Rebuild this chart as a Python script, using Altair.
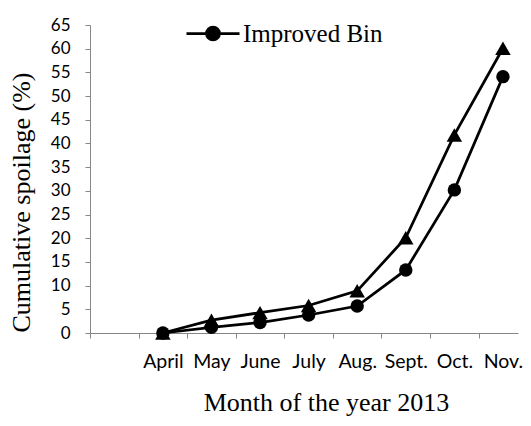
import json
import altair as alt
import pandas as pd

# ---- data ----
months = ["April", "May", "June", "July", "Aug.", "Sept.", "Oct.", "Nov."]
improved_bin = [0.0, 1.2, 2.2, 3.8, 5.7, 13.3, 30.2, 54.1]
other_bin = [0.0, 2.7, 4.3, 5.8, 8.9, 20.1, 41.8, 60.1]
y_ticks = list(range(0, 70, 5))

# category slots: slot 0 is empty, months take slots 1..8, points sit at slot centres
slot_labels = [""] + months
slot_pos = [i + 1.5 for i in range(len(months))]

df_imp = pd.DataFrame({"pos": slot_pos, "month": months, "value": improved_bin,
                       "series": "Improved Bin"})
df_oth = pd.DataFrame({"pos": slot_pos, "month": months, "value": other_bin,
                       "series": "Other Bin"})
df_all = pd.concat([df_imp, df_oth], ignore_index=True)

W, H = 428, 308
x_max = 8.81
half_slot = W / x_max / 2

serif = "Liberation Serif"
sans = "Lato"
axis_grey = "#868686"

x_enc = alt.X(
    "pos:Q",
    scale=alt.Scale(domain=[0, x_max], nice=False, zero=False),
    axis=alt.Axis(
        values=list(range(len(slot_labels))),
        labelExpr=json.dumps(slot_labels) + "[datum.value]",
        labelOffset=half_slot,
        labelOverlap=False,
        labelFlush=False,
        labelFont=sans,
        labelFontSize=19.5,
        labelColor="#000000",
        labelBaseline="alphabetic",
        labelPadding=29,
        tickSize=5,
        tickColor=axis_grey,
        domainColor=axis_grey,
        grid=False,
        title="Month of the year 2013",
        titleFont=serif,
        titleFontSize=26,
        titleFontWeight="normal",
        titleColor="#000000",
        titleX=236,
        titleY=77,
        titleAlign="center",
        titleBaseline="alphabetic",
    ),
)

y_enc = alt.Y(
    "value:Q",
    scale=alt.Scale(domain=[0, 65], nice=False),
    axis=alt.Axis(
        values=y_ticks,
        labelFont=sans,
        labelFontSize=17,
        labelColor="#000000",
        labelPadding=15,
        labelFlush=False,
        tickSize=5,
        tickColor=axis_grey,
        domainColor=axis_grey,
        grid=False,
        title="Cumulative spoilage (%)",
        titleFont=serif,
        titleFontSize=26,
        titleFontWeight="normal",
        titleColor="#000000",
        titleAngle=270,
        titleX=-61,
        titleY=177,
        titleAlign="center",
        titleBaseline="alphabetic",
    ),
)

lines = alt.Chart(df_all).mark_line(color="black", strokeWidth=2.75).encode(
    x=x_enc, y=y_enc, detail="series:N"
)

legend_path = ("M-1,0L1,0M0.245,0A0.245,0.245,0,1,1,-0.245,0"
               "A0.245,0.245,0,1,1,0.245,0Z")

circles = alt.Chart(df_imp).mark_point(
    shape="circle", filled=True, size=180, opacity=1
).encode(
    x=x_enc,
    y=y_enc,
    color=alt.Color(
        "series:N",
        scale=alt.Scale(domain=["Improved Bin"], range=["black"]),
        legend=alt.Legend(
            title=None,
            orient="none",
            legendX=95,
            legendY=-19.5,
            padding=0,
            symbolType=legend_path,
            symbolSize=2809,
            symbolFillColor="black",
            symbolStrokeColor="black",
            symbolStrokeWidth=2.75,
            symbolOpacity=1,
            labelFont=serif,
            labelFontSize=25,
            labelColor="#000000",
            labelOffset=2,
            labelLimit=300,
        ),
    ),
)

triangles = alt.Chart(df_oth).mark_point(
    shape="triangle-up", filled=True, size=240, color="black", opacity=1
).encode(x=x_enc, y=y_enc)

chart = (
    alt.layer(lines, circles, triangles)
    .properties(
        width=W,
        height=H,
        autosize=alt.AutoSizeParams(type="none"),
        padding={"left": 82, "top": 17, "right": 5, "bottom": 85},
        background="white",
    )
    .configure_view(stroke=None)
)

chart.save("out.html", embed_options={"renderer": "svg", "actions": False})
